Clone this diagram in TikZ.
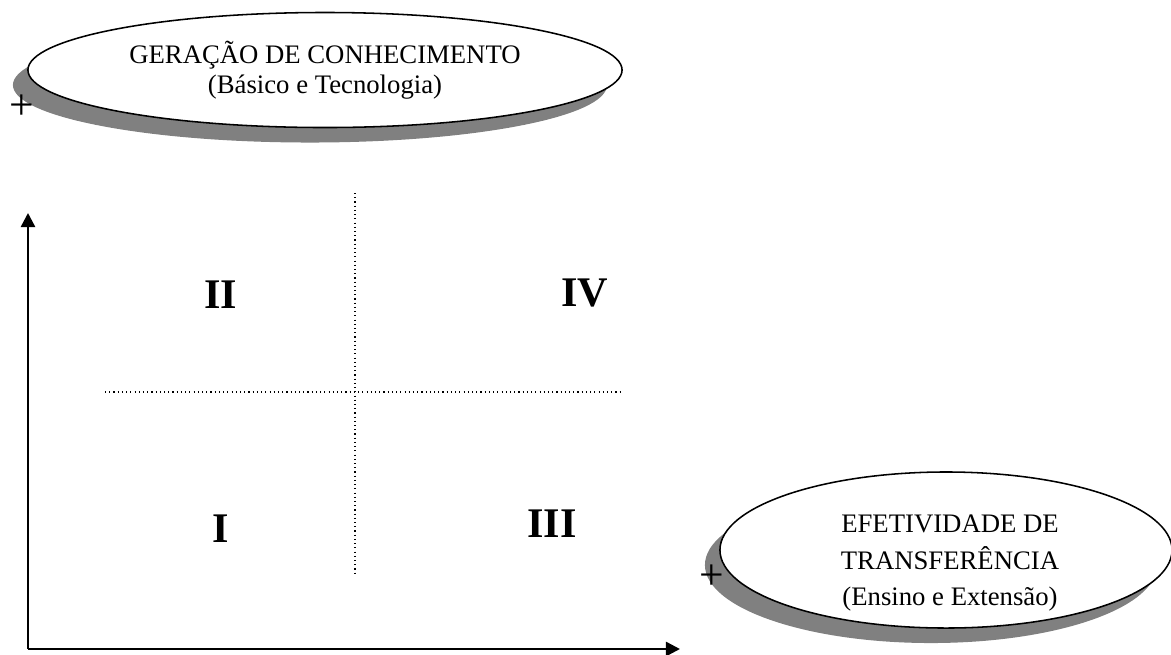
\documentclass[tikz,border=0pt]{standalone}
\usepackage{fontspec}
\setmainfont{Liberation Serif}
\usetikzlibrary{shapes.geometric,shadows,arrows.meta}

\begin{document}
\begin{tikzpicture}[x=0.025cm, y=-0.025cm,
    campo/.style={ellipse, draw, line width=1.1pt, fill=white, inner sep=0pt, align=center,
        drop shadow={shadow xshift=-0.375cm, shadow yshift=-0.375cm, fill=gray, opacity=1}},
    quadrante/.style={font=\fontsize{30}{36}\selectfont\bfseries},
    sinal/.style={font=\fontsize{31}{34}\selectfont, inner sep=0pt},
    eixo/.style={line width=1.8pt, -{Triangle[length=10pt, width=10pt]}},
    divisao/.style={line width=0.8pt, dash pattern=on 0.8pt off 2.2pt}]
          \useasboundingbox (0,0) rectangle (1171,654);
          % Geracao de conhecimento
          \node[campo, minimum width=14.85cm, minimum height=2.875cm,
                font=\fontsize{19}{21}\selectfont] (geracao) at (325,70)
                {GERAÇÃO DE CONHECIMENTO\\(Básico e Tecnologia)};
          \node[sinal] (mais1) at (22,107) {+};
          % Efetividade de transferencia
          \node[campo, minimum width=11.3cm, minimum height=3.9cm,
                label={[name=efetividadetexto, align=center, font=\fontsize{19}{26}\selectfont,
                        xshift=0.1cm, yshift=-0.33cm]center:EFETIVIDADE DE\\TRANSFERÊNCIA\\(Ensino e Extensão)}]
                (efetividade) at (946,550) {};
          \node[sinal] (mais2) at (712,577) {+};
          
          % Eixos
          \coordinate (origem) at (28,649);
          \coordinate (topo) at (28,213);
          \coordinate (fim) at (680,649);
          \draw[eixo] (origem) -- (topo);
          \draw[eixo] (origem) -- (fim);
          
          % Quadrantes
          \coordinate (v1) at (355,193);
          \coordinate (v2) at (355,574);
          \coordinate (h1) at (105,392);
          \coordinate (h2) at (622,392);
          \draw[divisao] (v1) -- (v2);
          \draw[divisao] (h1) -- (h2);
          \node[quadrante] (q2) at (221,295) {II};
          \node[quadrante] (q4) at (585,293) {IV};
          \node[quadrante] (q1) at (221,529) {I};
          \node[quadrante] (q3) at (552,524) {III};
        \end{tikzpicture}
\end{document}
